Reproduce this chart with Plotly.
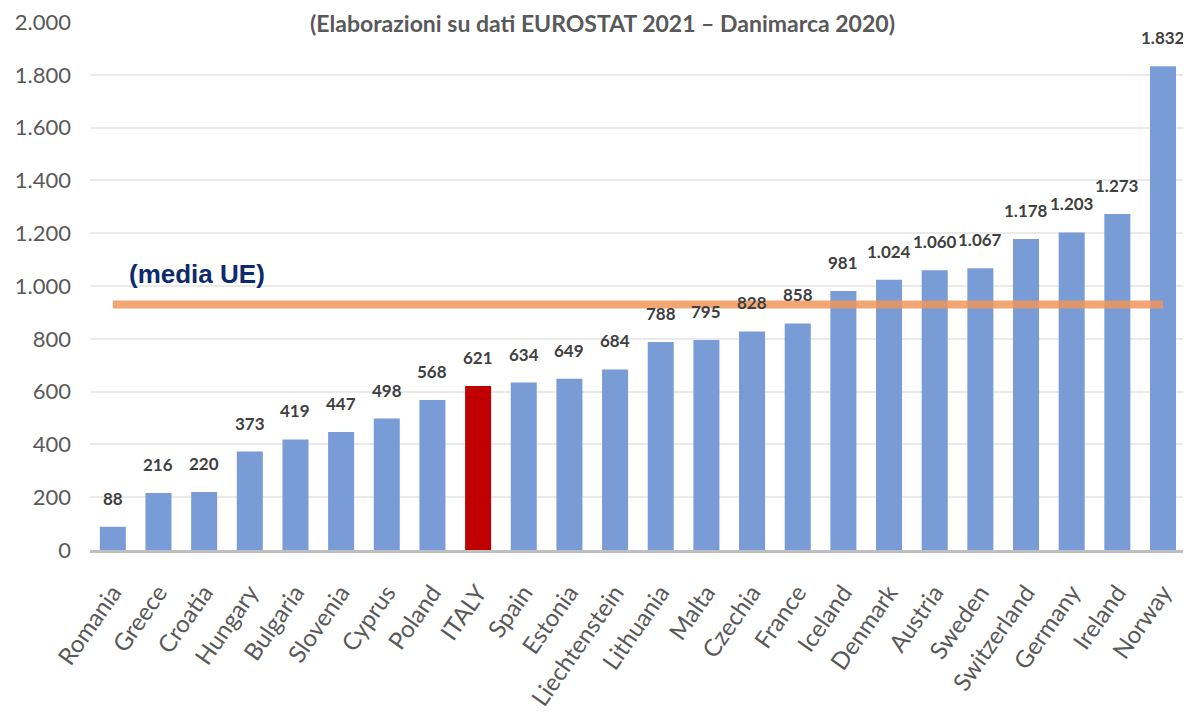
import plotly.graph_objects as go

countries = ["Romania", "Greece", "Croatia", "Hungary", "Bulgaria", "Slovenia", "Cyprus",
             "Poland", "ITALY", "Spain", "Estonia", "Liechtenstein", "Lithuania", "Malta",
             "Czechia", "France", "Iceland", "Denmark", "Austria", "Sweden", "Switzerland",
             "Germany", "Ireland", "Norway"]
values = [88, 216, 220, 373, 419, 447, 498, 568, 621, 634, 649, 684, 788, 795,
          828, 858, 981, 1024, 1060, 1067, 1178, 1203, 1273, 1832]
ue_mean = 930
highlight = "ITALY"
y_ticks = [0, 200, 400, 600, 800, 1000, 1200, 1400, 1600, 1800, 2000]

title_text = "(Elaborazioni su dati EUROSTAT 2021 – Danimarca 2020)"
mean_label = "(media UE)"


def it_fmt(v):
    return f"{v:,}".replace(",", ".")


bar_colors = ["#C00000" if c == highlight else "#7A9CD6" for c in countries]

fig = go.Figure()
fig.add_trace(go.Bar(
    x=countries, y=values, marker=dict(color=bar_colors, line=dict(width=0)),
    hoverinfo="x+y", showlegend=False,
))
fig.add_trace(go.Scatter(
    x=[countries[0], countries[-1]], y=[ue_mean, ue_mean], mode="lines",
    line=dict(color="rgba(240,150,90,0.85)", width=8), showlegend=False,
    hoverinfo="skip",
))

annotations = []
for c, v in zip(countries, values):
    annotations.append(dict(
        x=c, y=v, xref="x", yref="y", text=it_fmt(v), showarrow=False,
        yanchor="bottom", yshift=16,
        font=dict(family="Lato", size=17, color="#404040", weight="bold"),
    ))
annotations.append(dict(
    x=0.467, y=1, xref="paper", yref="paper", yshift=14,
    text=f"<b>{title_text}</b>", showarrow=False,
    xanchor="center", yanchor="top", bgcolor="white", borderpad=0,
    font=dict(family="Lato", size=23, color="#595959"),
))
annotations.append(dict(
    x=0.034, y=1047, xref="paper", yref="y", text=f"<b>{mean_label}</b>", showarrow=False,
    xanchor="left", yanchor="middle",
    font=dict(family="Liberation Sans", size=26, color="#0D2A6B"),
))

fig.update_layout(
    width=1183, height=707,
    margin=dict(l=82, r=4, t=14, b=165),
    plot_bgcolor="white", paper_bgcolor="white",
    bargap=0.43,
    annotations=annotations,
    xaxis=dict(
        tickangle=-55, tickfont=dict(family="Lato", size=24, color="#595959"),
        showgrid=False, showline=True, linecolor="#BFBFBF", linewidth=3,
        ticks="", ticklabelstandoff=16, automargin=False,
    ),
    yaxis=dict(
        range=[0, 2000], tickvals=y_ticks, ticktext=[it_fmt(t) for t in y_ticks],
        tickfont=dict(family="Lato", size=22, color="#595959"),
        showgrid=True, gridcolor="#EAEAEA", gridwidth=2, zeroline=False,
        ticks="", ticklabelstandoff=18, automargin=False,
        ticklabeloverflow="allow",
    ),
)

fig.write_html("out.html")
